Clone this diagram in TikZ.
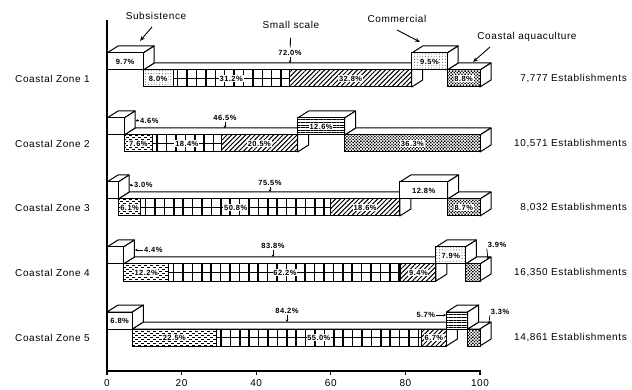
\documentclass[tikz,border=0pt]{standalone}
\usepackage{fontspec}
\setmainfont{Liberation Sans}
\newfontfamily\lsp[LetterSpace=6]{Liberation Sans}
\usetikzlibrary{patterns,patterns.meta,arrows.meta}
\pgfdeclarepatternformonly{shortdash}{\pgfqpoint{-1pt}{-1pt}}{\pgfqpoint{7pt}{5pt}}{\pgfqpoint{6pt}{4pt}}{%
  \pgfsetlinewidth{0.45pt}%
  \pgfpathmoveto{\pgfqpoint{0pt}{1pt}}\pgfpathlineto{\pgfqpoint{2.8pt}{1pt}}%
  \pgfpathmoveto{\pgfqpoint{3pt}{3pt}}\pgfpathlineto{\pgfqpoint{5.8pt}{3pt}}%
  \pgfusepath{stroke}}
\newcommand\PX[1]{(107+3.73*(#1))}
\newcommand\PMID[2]{((\PX{#1}+\PX{#2})/2)}
\newcommand\gridseg[4]{%
  \begin{scope}
    \clip (#1,#3) rectangle (#2,#4);
    \foreach \k in {0,...,26} {\draw[gridline] ({#1+4.7+9.4*\k},#3) -- ({#1+4.7+9.4*\k},#4);}
    \draw[gridline] (#1,{(#3+#4)/2}) -- (#2,{(#3+#4)/2});
  \end{scope}}
\newcommand\lowbar[6]{%
  \pgfmathsetmacro\lbA{\PX{#2}}\pgfmathsetmacro\lbB{\PX{#3}}%
  \pgfmathsetmacro\lbC{\PX{#4}}\pgfmathsetmacro\lbD{\PX{#5}}%
  \pgfmathsetmacro\lbT{#1+17}\pgfmathsetmacro\lbU{#1+34}%
  \pgfmathsetmacro\lbK{#1+10}\pgfmathsetmacro\lbL{#1+27}%
  \path[boxface] (\lbA,\lbT) -- ({\lbA+11},\lbK) -- ({\lbD+11},\lbK) -- (\lbD,\lbT) -- cycle;
  \path[boxface] (\lbD,\lbT) -- ({\lbD+11},\lbK) -- ({\lbD+11},\lbL) -- (\lbD,\lbU) -- cycle;
  \path[fill=white] (\lbA,\lbT) rectangle (\lbD,\lbU);
  \path[#6] (\lbA,\lbT) rectangle (\lbB,\lbU);
  \gridseg{\lbB}{\lbC}{\lbT}{\lbU}
  \path[hatch] (\lbC,\lbT) rectangle (\lbD,\lbU);
  \draw[boxedge] (\lbA,\lbT) rectangle (\lbD,\lbU);
  \draw[boxedge] (\lbB,\lbT) -- (\lbB,\lbU) (\lbC,\lbT) -- (\lbC,\lbU);}
\newcommand\cub[5]{%
  \pgfmathsetmacro\cbA{\PX{#1}}\pgfmathsetmacro\cbB{\PX{#2}}%
  \pgfmathsetmacro\cbK{#3-7}\pgfmathsetmacro\cbL{#4-7}%
  \path[boxface] (\cbA,#3) -- ({\cbA+11},\cbK) -- ({\cbB+11},\cbK) -- (\cbB,#3) -- cycle;
  \path[boxface] (\cbB,#3) -- ({\cbB+11},\cbK) -- ({\cbB+11},\cbL) -- (\cbB,#4) -- cycle;
  \path[fill=white] (\cbA,#3) rectangle (\cbB,#4);
  \path[#5] (\cbA,#3) rectangle (\cbB,#4);
  \draw[boxedge] (\cbA,#3) rectangle (\cbB,#4);}
\begin{document}
\begin{tikzpicture}[x=1pt,y=-1pt,
  boxface/.style={fill=white,draw=black,line width=1pt,line join=round},
  boxedge/.style={draw=black,line width=1pt},
  gridline/.style={line width=1.5pt},
  hatch/.style={pattern={Lines[angle=45,distance=3.3pt,line width=1pt]}},
  sdash/.style={pattern=shortdash},
  adots/.style={pattern={Dots[angle=45,distance=2.2pt,radius=0.95pt]}},
  ldots/.style={pattern={Dots[distance=2.8pt,radius=0.4pt]}},
  hlines/.style={pattern={Lines[angle=0,distance=2.6pt,line width=0.45pt]}},
  lbl/.style={font=\lsp\fontsize{10}{12}\selectfont,inner sep=0pt},
  pct/.style={font=\lsp\bfseries\fontsize{7.5}{9}\selectfont,inner sep=0.8pt},
  pctw/.style={pct,fill=white},
  smallarr/.style={-{Stealth[length=2.5pt,width=2.5pt]},line width=0.7pt},
  ann/.style={-{Stealth[length=5pt,width=4pt]},line width=0.9pt}]
\useasboundingbox (0,0) rectangle (632,390);

% ---------- Zone 1 ----------
\lowbar{53}{9.7}{17.7}{48.9}{81.7}{ldots}
\cub{91.2}{100}{70}{87}{adots}
\cub{0}{9.7}{53}{70}{}
\cub{81.7}{91.2}{53}{70}{ldots}
\node[pctw] (z1a) at ({\PMID{0}{9.7}},61.5) {9.7\%};
\node[pctw] (z1b) at ({\PMID{9.7}{17.7}},78.5) {8.0\%};
\node[pctw] (z1c) at ({\PMID{17.7}{48.9}},78.5) {31.2\%};
\node[pctw] (z1d) at ({\PMID{48.9}{81.7}},78.5) {32.8\%};
\node[pctw] (z1e) at ({\PMID{81.7}{91.2}},61.5) {9.5\%};
\node[pctw] (z1f) at ({\PMID{91.2}{100}},78.5) {8.8\%};
\node[pct] (z1t) at (290,53) {72.0\%};
\coordinate (z1tt) at (290,63);
\draw[smallarr] (z1t.south) -- (z1tt);
\node[lbl,anchor=west] (z1l) at (15,78.5) {Coastal Zone 1};
\node[lbl,anchor=east] (z1n) at (627,78.5) {7,777 Establishments};

% ---------- Zone 2 ----------
\lowbar{118}{4.6}{12.2}{30.6}{51.1}{sdash}
\cub{63.7}{100}{135}{152}{adots}
\cub{0}{4.6}{118}{135}{}
\cub{51.1}{63.7}{118}{135}{hlines}
\node[pct,anchor=west] (z2s) at (139,120.5) {4.6\%};
\coordinate (z2sb) at (135.5,120.5);
\draw[smallarr] (z2s.west) -- (z2sb);
\node[pctw] (z2b) at ({\PMID{4.6}{12.2}},143.5) {7.6\%};
\node[pctw] (z2c) at ({\PMID{12.2}{30.6}},143.5) {18.4\%};
\node[pctw] (z2d) at ({\PMID{30.6}{51.1}},143.5) {20.5\%};
\node[pctw] (z2e) at ({\PMID{51.1}{63.7}},126.5) {12.6\%};
\node[pctw] (z2f) at ({\PMID{63.7}{100}},143.5) {36.3\%};
\node[pct] (z2t) at (225,118) {46.5\%};
\coordinate (z2tt) at (225,128);
\draw[smallarr] (z2t.south) -- (z2tt);
\node[lbl,anchor=west] (z2l) at (15,143.5) {Coastal Zone 2};
\node[lbl,anchor=east] (z2n) at (627,143.5) {10,571 Establishments};

% ---------- Zone 3 ----------
\lowbar{182}{3.0}{9.1}{59.9}{78.5}{sdash}
\cub{91.3}{100}{199}{216}{adots}
\cub{0}{3.0}{182}{199}{}
\cub{78.5}{91.3}{182}{199}{}
\node[pct,anchor=west] (z3s) at (133,185) {3.0\%};
\coordinate (z3sb) at (129.5,185);
\draw[smallarr] (z3s.west) -- (z3sb);
\node[pctw] (z3b) at ({\PMID{3.0}{9.1}},207.5) {6.1\%};
\node[pctw] (z3c) at ({\PMID{9.1}{59.9}},207.5) {50.8\%};
\node[pctw] (z3d) at ({\PMID{59.9}{78.5}},207.5) {18.6\%};
\node[pctw] (z3e) at ({\PMID{78.5}{91.3}},190.5) {12.8\%};
\node[pctw] (z3f) at ({\PMID{91.3}{100}},207.5) {8.7\%};
\node[pct] (z3t) at (270,183) {75.5\%};
\coordinate (z3tt) at (270,192);
\draw[smallarr] (z3t.south) -- (z3tt);
\node[lbl,anchor=west] (z3l) at (15,207.5) {Coastal Zone 3};
\node[lbl,anchor=east] (z3n) at (627,207.5) {8,032 Establishments};

% ---------- Zone 4 ----------
\lowbar{247}{4.4}{16.6}{78.8}{88.2}{sdash}
\cub{96.1}{100}{264}{281}{adots}
\cub{0}{4.4}{247}{264}{}
\cub{88.2}{96.1}{247}{264}{ldots}
\node[pct,anchor=west] (z4s) at (143,250) {4.4\%};
\coordinate (z4sb) at (135,250);
\draw[smallarr] (z4s.west) -- (z4sb);
\node[pctw] (z4b) at ({\PMID{4.4}{16.6}},272.5) {12.2\%};
\node[pctw] (z4c) at ({\PMID{16.6}{78.8}},272.5) {62.2\%};
\node[pctw] (z4d) at ({\PMID{78.8}{88.2}},272.5) {9.4\%};
\node[pctw] (z4e) at ({\PMID{88.2}{96.1}},255.5) {7.9\%};
\node[pct] (z4t) at (273,246) {83.8\%};
\coordinate (z4tt) at (273,257);
\draw[smallarr] (z4t.south) -- (z4tt);
\node[pct] (z4q) at (497,245) {3.9\%};
\coordinate (z4qq) at (488,259);
\draw[smallarr] (z4q.south west) -- (z4qq);
\node[lbl,anchor=west] (z4l) at (15,272.5) {Coastal Zone 4};
\node[lbl,anchor=east] (z4n) at (627,272.5) {16,350 Establishments};

% ---------- Zone 5 ----------
\lowbar{312}{6.8}{29.3}{84.3}{91.0}{sdash}
\cub{96.7}{100}{329}{346}{adots}
\cub{0}{6.8}{312}{329}{}
\cub{91.0}{96.7}{312}{329}{hlines}
\node[pctw] (z5a) at ({\PMID{0}{6.8}},320.5) {6.8\%};
\node[pctw] (z5b) at ({\PMID{6.8}{29.3}},337.5) {22.5\%};
\node[pctw] (z5c) at ({\PMID{29.3}{84.3}},337.5) {55.0\%};
\node[pctw] (z5d) at ({\PMID{84.3}{91.0}},337.5) {6.7\%};
\node[pct] (z5t) at (287,311) {84.2\%};
\coordinate (z5tt) at (287,322);
\draw[smallarr] (z5t.south) -- (z5tt);
\node[pct,anchor=east] (z5c2) at (436,315) {5.7\%};
\coordinate (z5cc) at (446,315);
\draw[smallarr] (z5c2.east) -- (z5cc);
\node[pct] (z5q) at (500,312) {3.3\%};
\coordinate (z5qq) at (489,324);
\draw[smallarr] (z5q.south west) -- (z5qq);
\node[lbl,anchor=west] (z5l) at (15,337.5) {Coastal Zone 5};
\node[lbl,anchor=east] (z5n) at (627,337.5) {14,861 Establishments};

% ---------- headers ----------
\node[lbl] (hsub) at (156,16) {Subsistence};
\coordinate (hsubs) at (152,27);
\coordinate (hsubt) at (140,41);
\draw[ann] (hsubs) -- (hsubt);
\node[lbl] (hss) at (291,25) {Small scale};
\draw[line width=0.9pt,shorten <=9pt,shorten >=2pt] (hss) -- (z1t);
\node[lbl] (hcom) at (397,19) {Commercial};
\coordinate (hcoms) at (397,30);
\coordinate (hcomt) at (420,42);
\draw[ann] (hcoms) -- (hcomt);
\node[lbl] (haq) at (527,37) {Coastal aquaculture};
\coordinate (haqs) at (490,47);
\coordinate (haqt) at (473,62);
\draw[ann] (haqs) -- (haqt);

% ---------- axes ----------
\draw[line width=2pt] (107,20) -- (107,371);
\draw[line width=1.4pt] (107,371) -- (481,371);
\foreach \v in {0,20,40,60,80,100} {
  \draw[line width=1.1pt] ({\PX{\v}},371) -- ({\PX{\v}},375);
  \node[lbl] (t\v) at ({\PX{\v}},383.5) {\v};
}
\end{tikzpicture}
\end{document}
